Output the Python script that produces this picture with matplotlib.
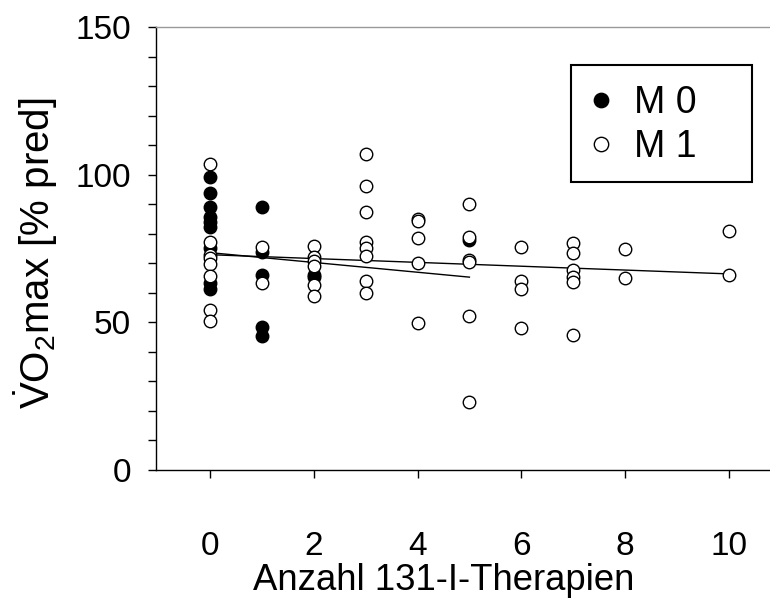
import matplotlib
matplotlib.use("Agg")
import matplotlib.pyplot as plt
from matplotlib.patches import Rectangle
import numpy as np

plt.rcParams['font.family'] = ['Liberation Sans', 'DejaVu Sans']
plt.rcParams['mathtext.fontset'] = 'custom'
plt.rcParams['mathtext.rm'] = 'Liberation Sans'
plt.rcParams['mathtext.it'] = 'Liberation Sans:italic'

# M0 (filled)
m0_x = [0, 0, 0, 0, 0, 0, 0, 0, 0, 1, 1, 1, 1, 1, 2, 2, 5]
m0_y = [99.1, 93.9, 89.2, 85.8, 84.1, 82.2, 75.1, 63.2, 61.2,
        89.2, 73.9, 66.0, 48.5, 45.4, 66.0, 65.2, 78.0]

# M1 (open)
m1_x = [0, 0, 0, 0, 0, 0, 0, 0,
        1, 1,
        2, 2, 2, 2, 2, 2,
        3, 3, 3, 3, 3, 3, 3, 3,
        4, 4, 4, 4, 4,
        5, 5, 5, 5, 5, 5,
        6, 6, 6, 6,
        7, 7, 7, 7, 7, 7,
        8, 8,
        10, 10]
m1_y = [103.6, 77.3, 72.8, 71.7, 69.7, 65.7, 54.2, 50.5,
        75.4, 63.2,
        75.9, 72.2, 70.8, 69.1, 62.6, 58.9,
        106.9, 96.3, 87.4, 77.1, 75.1, 72.6, 64.1, 59.8,
        85.0, 84.3, 78.7, 70.2, 49.9,
        90.1, 79.0, 71.1, 70.5, 52.1, 23.1,
        75.5, 64.1, 61.3, 48.1,
        76.8, 73.4, 67.7, 65.5, 63.8, 45.7,
        74.8, 65.1,
        81.0, 66.0]

# regression lines (intercept, slope, x-range)
m0_fit = (73.6, -1.66)
m0_range = [0, 5]
m1_fit = (72.9, -0.65)
m1_range = [0, 10]

xticks = [0, 2, 4, 6, 8, 10]
yticks = [0, 50, 100, 150]

W, H = 770, 598
fig = plt.figure(figsize=(W / 100, H / 100), dpi=100)
ax = fig.add_axes([156/W, 128/H, 700/W, 443/H])
ax.set_xlim(-1.04, 12.45)
ax.set_ylim(0, 150)

xr = np.array(m0_range)
ax.plot(xr, m0_fit[0] + m0_fit[1] * xr, color='black', lw=1.0, zorder=2)
xr = np.array(m1_range)
ax.plot(xr, m1_fit[0] + m1_fit[1] * xr, color='black', lw=1.0, zorder=2)

ax.plot(m0_x, m0_y, 'o', ms=9, mfc='black', mec='black', mew=1.0,
        ls='none', label='M 0', zorder=3)
ax.plot(m1_x, m1_y, 'o', ms=9, mfc='white', mec='black', mew=1.0,
        ls='none', label='M 1', zorder=4)

ax.set_xticks(xticks)
ax.set_yticks(yticks)
ax.set_yticks(np.arange(0, 151, 10), minor=True)
ax.tick_params(axis='both', which='both', direction='out', labelsize=24,
               width=1.0, color='black')
ax.tick_params(axis='y', which='major', length=6, pad=12)
ax.tick_params(axis='y', which='minor', length=6)
ax.tick_params(axis='x', which='major', length=6, pad=38)

ax.spines['right'].set_visible(False)
ax.spines['top'].set_color('#999999')
ax.spines['top'].set_linewidth(1.0)
for s in ('left', 'bottom'):
    ax.spines[s].set_linewidth(1.0)

ax.set_xlabel('Anzahl 131-I-Therapien', fontsize=26.3)
ax.xaxis.set_label_coords(444/W, 1 - 590/H, transform=fig.transFigure)
ax.xaxis.label.set_va('baseline')
ax.set_ylabel(r'$\dot{\mathrm{V}}\mathrm{O}_{2}\mathrm{max}$ [% pred]',
              fontsize=29)
ax.yaxis.set_label_coords(60/W, 1 - 253/H, transform=fig.transFigure)
ax.yaxis.label.set_va('bottom')

# legend frame
fig.patches.append(Rectangle((571/W, 1 - 182/H), 181/W, 117/H,
                             transform=fig.transFigure, fill=False,
                             edgecolor='black', linewidth=1.5))
leg = ax.legend(loc='upper left', bbox_to_anchor=(571/W, 1 - 68/H),
                bbox_transform=fig.transFigure,
                fontsize=27, frameon=False,
                borderpad=0.45, handletextpad=0.53, handlelength=0.7,
                labelspacing=0.22, borderaxespad=0, markerscale=1.15)

fig.savefig('out.png', dpi=100)
